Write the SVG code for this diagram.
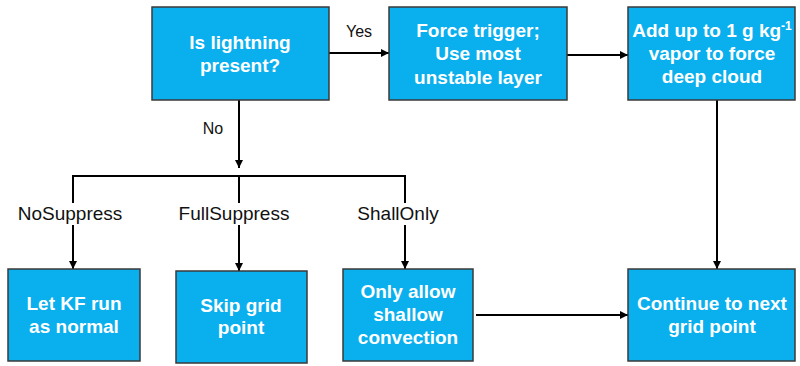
<svg xmlns="http://www.w3.org/2000/svg" width="800" height="366" viewBox="0 0 800 366">
<style>
.box{fill:#0AAFEE;stroke:#3a3a3a;stroke-width:1.5}
.bt{font-family:"Liberation Sans",Arial,sans-serif;font-weight:bold;font-size:19px;fill:#fff;text-anchor:middle}
.lbl{font-family:"Liberation Sans",Arial,sans-serif;font-size:19px;fill:#111;text-anchor:middle}
.sm{font-family:"Liberation Sans",Arial,sans-serif;font-size:16px;fill:#111;text-anchor:middle}
.ln{stroke:#000;stroke-width:2;fill:none}
.ar{marker-end:url(#ah)}
</style>
<defs>
<marker id="ah" viewBox="0 0 10 10" refX="10" refY="5" markerWidth="4" markerHeight="4" orient="auto" markerUnits="strokeWidth">
<path d="M0,0 L10,5 L0,10 z" fill="#000"/>
</marker>
</defs>
<rect width="800" height="366" fill="#fff"/>
<g id="connectors">
<line class="ln ar" x1="329" y1="53" x2="389" y2="53"/>
<line class="ln ar" x1="567" y1="55" x2="628" y2="55"/>
<line class="ln ar" x1="717" y1="100" x2="717" y2="269"/>
<line class="ln ar" x1="239" y1="100" x2="239" y2="168"/>
<polyline class="ln" points="73,203 73,176 405,176 405,203"/>
<line class="ln" x1="239" y1="176" x2="239" y2="203"/>
<line class="ln ar" x1="73" y1="225" x2="73" y2="269"/>
<line class="ln ar" x1="239" y1="225" x2="239" y2="271"/>
<line class="ln ar" x1="405" y1="225" x2="405" y2="269"/>
<line class="ln ar" x1="476" y1="315" x2="628" y2="315"/>
<text class="sm" x="359" y="37">Yes</text>
<text class="sm" x="213" y="134">No</text>
<text class="lbl" x="70" y="220">NoSuppress</text>
<text class="lbl" x="234" y="220">FullSuppress</text>
<text class="lbl" x="398" y="220">ShallOnly</text>
</g>
<g id="lightning">
<rect class="box" x="152" y="7" width="177" height="93"/>
<text class="bt" x="240" y="49">Is lightning</text>
<text class="bt" x="240" y="72">present?</text>
</g>
<g id="force">
<rect class="box" x="389" y="7" width="178" height="93"/>
<text class="bt" x="478" y="37">Force trigger;</text>
<text class="bt" x="478" y="60">Use most</text>
<text class="bt" x="478" y="84">unstable layer</text>
</g>
<g id="addvapor">
<rect class="box" x="628" y="7" width="167" height="93"/>
<text class="bt" x="712" y="37">Add up to 1 g kg<tspan font-size="12" dy="-7">-1</tspan></text>
<text class="bt" x="712" y="60">vapor to force</text>
<text class="bt" x="712" y="83">deep cloud</text>
</g>
<g id="letkf">
<rect class="box" x="8" y="269" width="132" height="92"/>
<text class="bt" x="74" y="310">Let KF run</text>
<text class="bt" x="74" y="333">as normal</text>
</g>
<g id="skip">
<rect class="box" x="176" y="271" width="131" height="92"/>
<text class="bt" x="241" y="312">Skip grid</text>
<text class="bt" x="241" y="334">point</text>
</g>
<g id="shallow">
<rect class="box" x="343" y="269" width="130" height="92"/>
<text class="bt" x="408" y="298">Only allow</text>
<text class="bt" x="408" y="321">shallow</text>
<text class="bt" x="408" y="344">convection</text>
</g>
<g id="continue">
<rect class="box" x="628" y="269" width="167" height="92"/>
<text class="bt" x="712" y="310">Continue to next</text>
<text class="bt" x="712" y="333">grid point</text>
</g>
</svg>
